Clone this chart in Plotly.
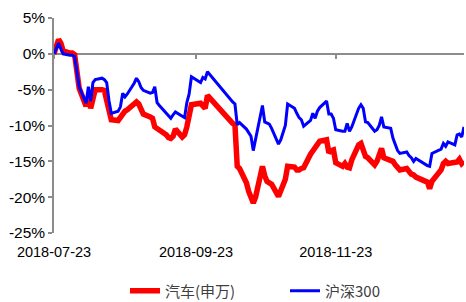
import plotly.graph_objects as go

dates = ["2018-07-23","2018-07-24","2018-07-25","2018-07-26","2018-07-27","2018-07-30","2018-07-31",
         "2018-08-01","2018-08-02","2018-08-03","2018-08-06","2018-08-07","2018-08-08","2018-08-09","2018-08-10",
         "2018-08-13","2018-08-14","2018-08-15","2018-08-16","2018-08-17","2018-08-20","2018-08-21","2018-08-22",
         "2018-08-23","2018-08-24","2018-08-27","2018-08-28","2018-08-29","2018-08-30","2018-08-31",
         "2018-09-03","2018-09-04","2018-09-05","2018-09-06","2018-09-07","2018-09-10","2018-09-11","2018-09-12",
         "2018-09-13","2018-09-14","2018-09-17","2018-09-18","2018-09-19","2018-09-20","2018-09-21",
         "2018-09-25","2018-09-26","2018-09-27","2018-09-28","2018-10-08","2018-10-09","2018-10-10","2018-10-11",
         "2018-10-12","2018-10-15","2018-10-16","2018-10-17","2018-10-18","2018-10-19","2018-10-22","2018-10-23",
         "2018-10-24","2018-10-25","2018-10-26","2018-10-29","2018-10-30","2018-10-31","2018-11-01","2018-11-02",
         "2018-11-05","2018-11-06","2018-11-07","2018-11-08","2018-11-09","2018-11-12","2018-11-13","2018-11-14",
         "2018-11-15","2018-11-16","2018-11-19","2018-11-20","2018-11-21","2018-11-22","2018-11-23",
         "2018-11-26","2018-11-27","2018-11-28","2018-11-29","2018-11-30","2018-12-03","2018-12-04","2018-12-05",
         "2018-12-06","2018-12-07","2018-12-10","2018-12-11","2018-12-12","2018-12-13","2018-12-14",
         "2018-12-17","2018-12-18","2018-12-19","2018-12-20","2018-12-21","2018-12-24","2018-12-25","2018-12-26",
         "2018-12-27","2018-12-28","2019-01-02","2019-01-03","2019-01-04","2019-01-07","2019-01-08","2019-01-09",
         "2019-01-10","2019-01-11","2019-01-14","2019-01-15","2019-01-16","2019-01-17","2019-01-18"]

auto_sw = [0.0, 1.0, 2.0, 1.5, 0.4, 0.1, 0.1,
           -0.1, -2.3, -4.8, -7.3, -6.0, -7.6, -6.3, -5.0,
           -5.0, -5.1, -6.5, -7.8, -9.2, -9.3, -8.9, -8.2,
           -8.0, -7.8, -7.0, -6.7, -7.0, -7.8, -8.4,
           -8.8, -9.0, -10.2, -10.4, -10.6, -11.3, -11.7, -11.8,
           -11.5, -10.5, -11.6, -11.3, -10.2, -9.0, -7.1,
           -6.9, -7.2, -7.6, -5.8, -9.5, -9.7, -9.9, -15.7,
           -16.0, -18.0, -19.2, -19.8, -20.8, -20.0, -15.7, -17.0,
           -17.8, -18.0, -18.2, -19.9, -19.0, -18.2, -17.5, -15.7,
           -15.8, -16.2, -16.2, -16.0, -15.9, -14.0, -13.6, -13.1,
           -12.8, -12.2, -12.0, -13.8, -13.5, -13.4, -15.2,
           -15.7, -15.3, -15.8, -15.9, -14.8, -12.7, -12.5, -13.4,
           -14.3, -14.5, -15.5, -15.0, -14.3, -13.2, -14.5,
           -14.8, -15.0, -15.5, -16.0, -16.2, -16.0, -16.5, -16.8,
           -16.9, -17.2, -17.9, -18.8, -17.8, -16.5, -16.2, -15.3,
           -15.0, -15.3, -15.2, -15.1, -14.7, -15.3, -15.0]

hs300 = [0.0, 0.8, 1.5, 0.7, 0.0, -0.2, -0.2,
         -0.4, -2.5, -4.6, -6.9, -4.6, -6.6, -4.0, -3.6,
         -3.4, -3.6, -4.0, -6.5, -8.3, -8.0, -7.4, -5.5,
         -6.0, -5.6, -4.1, -3.4, -3.9, -4.7, -5.1,
         -5.5, -5.4, -4.6, -6.8, -7.2, -8.3, -8.6, -9.0,
         -8.5, -8.1, -8.7, -8.9, -6.8, -5.6, -3.2,
         -4.0, -3.3, -3.5, -2.5, -6.4, -6.7, -7.0, -9.9,
         -9.6, -10.5, -11.0, -11.5, -13.5, -11.8, -7.2, -9.5,
         -9.6, -9.8, -10.4, -12.6, -12.0, -10.9, -10.0, -7.0,
         -7.6, -8.3, -8.9, -9.2, -10.1, -9.3, -8.3, -9.0,
         -8.0, -7.5, -6.6, -8.4, -8.4, -9.0, -10.6,
         -10.8, -10.8, -9.7, -10.8, -10.2, -7.6, -7.1, -7.6,
         -9.5, -9.6, -10.8, -10.6, -10.0, -8.8, -10.2,
         -10.4, -11.8, -12.6, -13.5, -13.9, -13.7, -14.2, -14.5,
         -15.0, -14.6, -15.6, -15.7, -13.9, -13.4, -13.3, -12.5,
         -12.9, -12.3, -12.7, -11.3, -11.2, -11.6, -10.2]

series_names = ["汽车(申万)", "沪深300"]
x_tick_vals = ["2018-07-23", "2018-09-23", "2018-11-23"]
x_tick_text = ["2018-07-23", "2018-09-23", "2018-11-23"]
y_tick_vals = [5, 0, -5, -10, -15, -20, -25]
y_tick_text = ["5%", "0%", "-5%", "-10%", "-15%", "-20%", "-25%"]

axis_gray = "#8c8c8c"
font_fam = "Liberation Sans, Arial, sans-serif"
x_range = [dates[0], dates[-1]]

fig = go.Figure()
fig.add_trace(go.Scatter(x=dates, y=auto_sw, name=series_names[0], mode="lines",
                         line=dict(color="#ff0000", width=5.5), xaxis="x", yaxis="y"))
fig.add_trace(go.Scatter(x=dates, y=hs300, name=series_names[1], mode="lines",
                         line=dict(color="#0000ff", width=3), xaxis="x2", yaxis="y"))

fig.update_layout(
    width=466, height=302,
    margin=dict(l=54, r=2, t=18, b=69, autoexpand=False),
    paper_bgcolor="white", plot_bgcolor="white",
    font=dict(family=font_fam, size=14, color="#000000"),
    showlegend=True,
    legend=dict(orientation="h", x=(125 - 54) / 410, xanchor="left", y=-(291 - 233) / 215, yanchor="middle",
                font=dict(size=15, color="#404040", family="Noto Sans CJK SC, " + font_fam),
                itemwidth=30, entrywidth=115, entrywidthmode="pixels",
                bgcolor="rgba(0,0,0,0)", borderwidth=0),
    xaxis=dict(type="date", range=x_range, tickvals=x_tick_vals, ticktext=x_tick_text,
               showline=False, ticks="", showgrid=False, zeroline=False, automargin=False,
               ticklabelstandoff=8, tickfont=dict(size=14.5)),
    xaxis2=dict(type="date", range=x_range, tickvals=x_tick_vals, overlaying="x",
                anchor="free", position=25/30, showline=True, linecolor=axis_gray, linewidth=1.5,
                ticks="outside", ticklen=4, tickcolor=axis_gray, tickwidth=1.5, automargin=False,
                showticklabels=False, showgrid=False, zeroline=False, layer="below traces"),
    yaxis=dict(range=[-25, 5], tickvals=y_tick_vals, ticktext=y_tick_text, automargin=False,
               showline=True, linecolor=axis_gray, linewidth=1.5,
               ticks="outside", ticklen=4, tickcolor=axis_gray, tickwidth=1.5,
               showgrid=False, zeroline=False, tickfont=dict(size=15.5)),
)

fig.write_html("out.html", config={"displayModeBar": False},
               post_script="document.body.style.margin='0';document.body.style.overflow='hidden';")
